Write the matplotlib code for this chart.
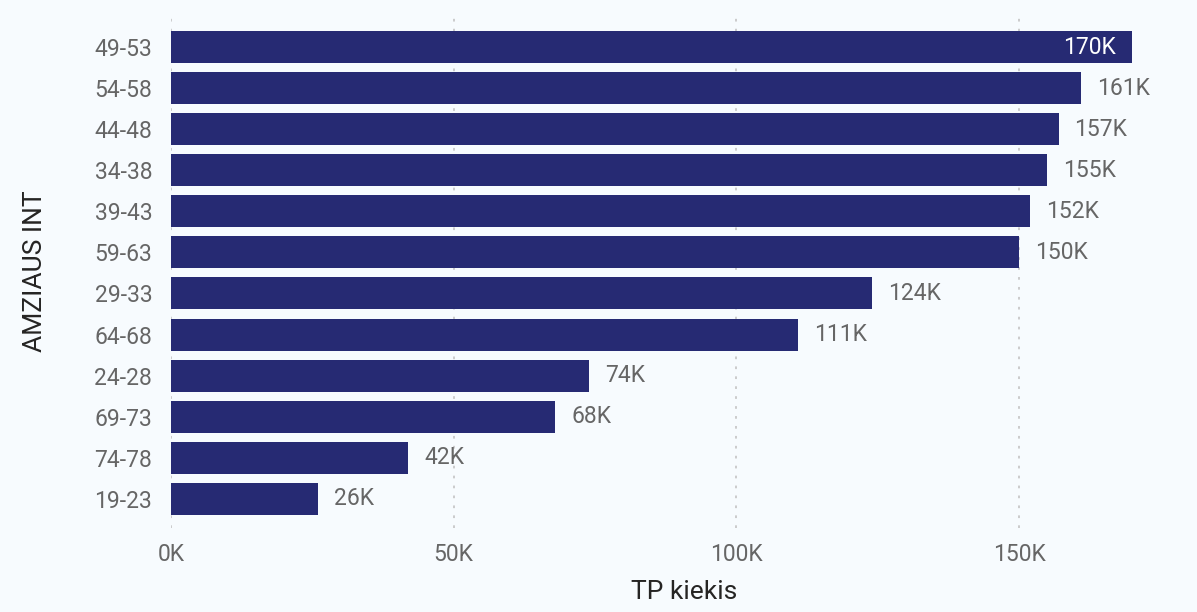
import matplotlib
matplotlib.use("Agg")
import matplotlib.pyplot as plt
from matplotlib.ticker import FuncFormatter

categories = ["49-53", "54-58", "44-48", "34-38", "39-43", "59-63",
              "29-33", "64-68", "24-28", "69-73", "74-78", "19-23"]
values = [170, 161, 157, 155, 152, 150, 124, 111, 74, 68, 42, 26]  # thousands
xticks = [0, 50, 100, 150]

BG = "#F7FBFE"
BAR = "#262A73"
TXT = "#666666"

plt.rcParams['font.family'] = ['Roboto', 'DejaVu Sans']

fig = plt.figure(figsize=(11.97, 6.12), dpi=100, facecolor=BG)
ax = fig.add_axes([171/1197, 1 - 528/612, (1197-171)/1197, (528-15)/612])
ax.set_facecolor(BG)

ypos = list(range(len(categories)))
ax.barh(ypos, values, height=0.78, color=BAR, zorder=2)
ax.set_xlim(0, (1197-171)/5.653)
ax.set_ylim(11.71, -0.78)

ax.set_yticks(ypos)
ax.set_yticklabels(categories)
ax.set_xticks(xticks)
ax.xaxis.set_major_formatter(FuncFormatter(lambda v, p: f"{int(v)}K"))
ax.tick_params(axis='both', length=0, labelsize=16.5, colors=TXT)
ax.tick_params(axis='y', pad=13.5)
ax.tick_params(axis='x', pad=11)
for s in ax.spines.values():
    s.set_visible(False)
ax.grid(axis='x', color="#C8C8C8", linestyle=(0, (1.5, 4)), linewidth=1.3, zorder=1)
ax.grid(axis='y', visible=False)

for y, v in zip(ypos, values):
    if v >= 165:
        ax.annotate(f"{v}K", (v, y), xytext=(-11.5, 0), textcoords='offset points',
                    ha='right', va='center', color='white', fontsize=16.5)
    else:
        ax.annotate(f"{v}K", (v, y), xytext=(11.5, 0), textcoords='offset points',
                    ha='left', va='center', color=TXT, fontsize=16.5)

ax.set_xlabel("TP kiekis", fontsize=19, color="#252423", labelpad=10)
ax.set_ylabel("AMZIAUS INT", fontsize=19, color="#252423", labelpad=34)

fig.savefig("out.png", dpi=100, facecolor=BG)
